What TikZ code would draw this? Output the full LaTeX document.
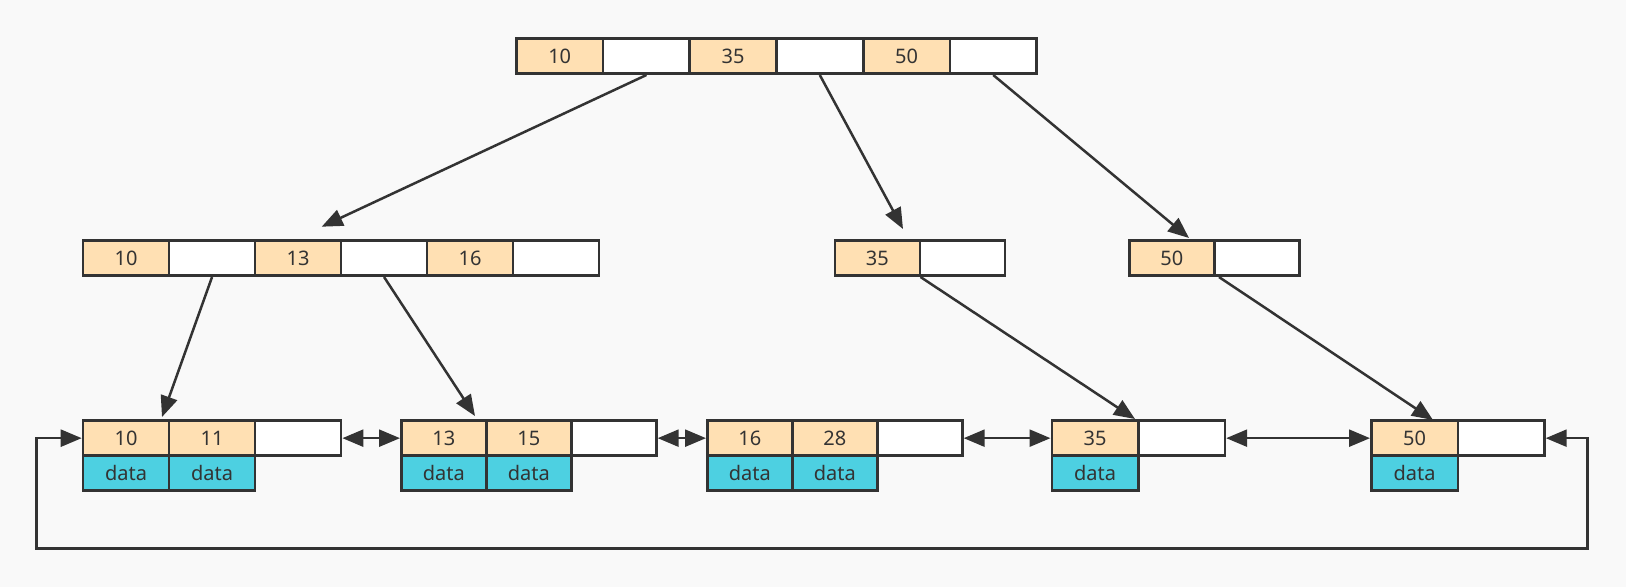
\documentclass[tikz,border=0pt]{standalone}
\usepackage{fontspec}
\setmainfont{Noto Sans}
\usetikzlibrary{arrows.meta}
\definecolor{bgc}{HTML}{F9F9F9}
\definecolor{keyc}{HTML}{FFE0B3}
\definecolor{datac}{HTML}{4DD0E1}
\definecolor{linec}{HTML}{333333}
\tikzset{
  cell/.style={draw=linec, line width=2.7pt, anchor=north west, inner sep=0pt,
    minimum height=35pt, text=linec, font=\fontsize{20}{24}\selectfont},
  keyw/.style={cell, fill=keyc, minimum width=#1},
  ptrw/.style={cell, fill=white, minimum width=#1},
  datw/.style={cell, fill=datac, minimum width=#1},
  arr/.style={draw=linec, line width=2.5pt, -{Triangle[length=21pt,width=17pt]}},
  darr/.style={draw=linec, line width=2.5pt, {Triangle[length=21pt,width=17pt]}-{Triangle[length=21pt,width=17pt]}},
}
\begin{document}
\begin{tikzpicture}[x=1pt,y=-1pt]
\fill[bgc] (0,0) rectangle (1626,587);
\useasboundingbox (0,0) rectangle (1626,587);
% root
\node[keyw=86.7pt] (t1) at (515,37.3) {10};
\node[ptrw=86.7pt] (t2) at (601.7,37.3) {};
\node[keyw=86.7pt] (t3) at (688.4,37.3) {35};
\node[ptrw=86.7pt] (t4) at (775.1,37.3) {};
\node[keyw=86.7pt] (t5) at (861.8,37.3) {50};
\node[ptrw=86.7pt] (t6) at (948.5,37.3) {};
% level 2
\node[keyw=86pt] (a1) at (81.7,239.3) {10};
\node[ptrw=86pt] (a2) at (167.7,239.3) {};
\node[keyw=86pt] (a3) at (253.7,239.3) {13};
\node[ptrw=86pt] (a4) at (339.7,239.3) {};
\node[keyw=86pt] (a5) at (425.7,239.3) {16};
\node[ptrw=86pt] (a6) at (511.7,239.3) {};
\node[keyw=85pt] (b1) at (833.5,239.3) {35};
\node[ptrw=85pt] (b2) at (918.5,239.3) {};
\node[keyw=85pt] (c1) at (1128,239.3) {50};
\node[ptrw=85pt] (c2) at (1213,239.3) {};
% leaves
\node[keyw=86pt] (l1a) at (81.7,419.3) {10};
\node[keyw=86pt] (l1b) at (167.7,419.3) {11};
\node[ptrw=86pt] (l1c) at (253.7,419.3) {};
\node[datw=86pt] (l1d) at (81.7,454.3) {data};
\node[datw=86pt] (l1e) at (167.7,454.3) {data};
\node[keyw=85pt] (l2a) at (400,419.3) {13};
\node[keyw=85pt] (l2b) at (485,419.3) {15};
\node[ptrw=85pt] (l2c) at (570,419.3) {};
\node[datw=85pt] (l2d) at (400,454.3) {data};
\node[datw=85pt] (l2e) at (485,454.3) {data};
\node[keyw=85pt] (l3a) at (706,419.3) {16};
\node[keyw=85pt] (l3b) at (791,419.3) {28};
\node[ptrw=85pt] (l3c) at (876,419.3) {};
\node[datw=85pt] (l3d) at (706,454.3) {data};
\node[datw=85pt] (l3e) at (791,454.3) {data};
\node[keyw=86.5pt] (l4a) at (1050.5,419.3) {35};
\node[ptrw=86.5pt] (l4b) at (1137,419.3) {};
\node[datw=86.5pt] (l4d) at (1050.5,454.3) {data};
\node[keyw=86.5pt] (l5a) at (1370,419.3) {50};
\node[ptrw=86.5pt] (l5b) at (1456.5,419.3) {};
\node[datw=86.5pt] (l5d) at (1370,454.3) {data};
% free ends
\coordinate (p1) at (321.7,226.7);
\coordinate (p2) at (903,229);
\coordinate (p3) at (1189,238);
\coordinate (q1) at (162,417);
\coordinate (q2) at (475,416);
\coordinate (r1) at (1135,419);
\coordinate (r2) at (1433,420);
\coordinate (lr) at (1587.6,548.3);
\coordinate (ll) at (36.7,548.3);
% tree connectors
\draw[arr] (t2.south) -- (p1);
\draw[arr] (t4.south) -- (p2);
\draw[arr] (t6.south) -- (p3);
\draw[arr] (a2.south) -- (q1);
\draw[arr] (a4.south) -- (q2);
\draw[arr] ([xshift=2pt]b2.south west) -- (r1);
\draw[arr] ([xshift=6pt]c2.south west) -- (r2);
% leaf links
\draw[darr] (l1c.east) -- (l2a.west);
\draw[darr] (l2c.east) -- (l3a.west);
\draw[darr] (l3c.east) -- (l4a.west);
\draw[darr] (l4b.east) -- (l5a.west);
\draw[darr] (l5b.east) -| (lr) -- (ll) |- (l1a.west);
\end{tikzpicture}
\end{document}
